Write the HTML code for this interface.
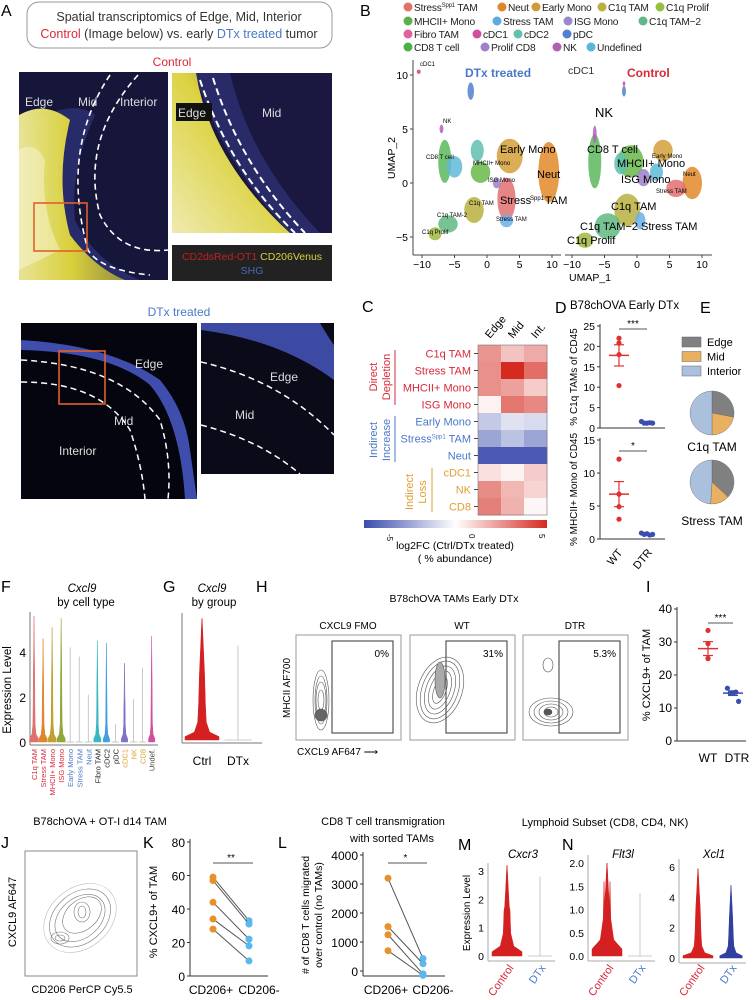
<!DOCTYPE html>
<html><head><meta charset="utf-8">
<style>
html,body{margin:0;padding:0;background:#fff;}
svg{display:block;font-family:"Liberation Sans",Arial,sans-serif;}
</style></head>
<body>
<svg id="fig" xmlns="http://www.w3.org/2000/svg" width="756" height="1000" viewBox="0 0 756 1000">
<defs>
  <linearGradient id="yband" x1="0" x2="1" y1="0" y2="0"><stop offset="0" stop-color="#f2ee9a"/><stop offset="0.5" stop-color="#e2d838"/><stop offset="1" stop-color="#9a9440"/></linearGradient>
  <linearGradient id="yband2" x1="0" x2="1" y1="1" y2="0"><stop offset="0" stop-color="#eeeab0"/><stop offset="0.55" stop-color="#dcd240"/><stop offset="1" stop-color="#5a5a80"/></linearGradient>
  <linearGradient id="cbar" x1="0" x2="1" y1="0" y2="0"><stop offset="0" stop-color="#3b4bab"/><stop offset="0.5" stop-color="#ffffff"/><stop offset="1" stop-color="#d42a20"/></linearGradient>
</defs>

<g>
  <text x="1" y="16" font-size="16">A</text>
  <rect x="27" y="2" width="305" height="46" rx="12" fill="#fff" stroke="#999" stroke-width="1"/>
  <text x="179" y="21" font-size="12.5" text-anchor="middle" fill="#333">Spatial transcriptomics of Edge, Mid, Interior</text>
  <text x="179" y="38" font-size="12.5" text-anchor="middle" fill="#333"><tspan fill="#d8283a">Control</tspan> (Image below) vs. early <tspan fill="#4a78c8">DTx treated</tspan> tumor</text>
  <text x="172" y="66" font-size="12" text-anchor="middle" fill="#d8283a">Control</text>

  <g>
    <rect x="19" y="72" width="149" height="208" fill="#16153a"/>
    <path d="M40,118 Q75,100 95,115 Q70,170 75,220 Q95,262 140,280 L30,280 Q19,250 19,200 L19,130Z" fill="#3a4298" opacity="0.5"/>
    <path d="M19,115 Q45,100 70,120 Q55,180 70,235 Q95,268 125,280 L19,280Z" fill="url(#yband)" opacity="0.95"/>
    <path d="M19,150 Q35,140 45,160 Q40,210 60,250 L19,270Z" fill="#fbf8e0" opacity="0.45"/>
    <path d="M110,75 Q60,150 88,250 Q100,270 150,275" fill="none" stroke="#fff" stroke-width="1.6" stroke-dasharray="6,4"/>
    <path d="M138,75 Q80,140 100,215 Q120,255 168,250" fill="none" stroke="#fff" stroke-width="1.6" stroke-dasharray="6,4"/>
    <rect x="34" y="203" width="53" height="48" fill="none" stroke="#e0602a" stroke-width="1.6"/>
    <text x="25" y="106" font-size="12" fill="#ddd">Edge</text>
    <text x="78" y="106" font-size="12" fill="#ddd">Mid</text>
    <text x="120" y="106" font-size="12" fill="#ddd">Interior</text>
  </g>
  <g>
    <rect x="172" y="73" width="160" height="160" fill="#1a1840"/>
    <path d="M195,73 L230,73 Q250,160 320,233 L290,233 Q220,160 195,73Z" fill="#3a4298" opacity="0.45"/>
    <path d="M172,73 L196,73 Q210,160 290,233 L172,233Z" fill="url(#yband2)"/>
    <path d="M200,80 Q230,170 295,233" fill="none" stroke="#fff" stroke-width="2" stroke-dasharray="7,4"/>
    <path d="M213,78 Q240,165 305,233" fill="none" stroke="#fff" stroke-width="2" stroke-dasharray="7,4"/>
    <rect x="176" y="103" width="36" height="18" fill="#111"/>
    <text x="178" y="117" font-size="12" fill="#ddd">Edge</text>
    <text x="262" y="117" font-size="12" fill="#ddd">Mid</text>
  </g>
  <g>
    <rect x="172" y="245" width="160" height="36" fill="#222"/>
    <text x="252" y="260" font-size="10.5" text-anchor="middle"><tspan fill="#c02020">CD2dsRed-OT1</tspan> <tspan fill="#d8d040">CD206Venus</tspan></text>
    <text x="252" y="274" font-size="10.5" text-anchor="middle" fill="#4a6ab8">SHG</text>
  </g>

  <text x="179" y="316" font-size="12" text-anchor="middle" fill="#4a78c8">DTx treated</text>
  <g>
    <rect x="21" y="323" width="176" height="176" fill="#050510"/>
    <path d="M21,340 Q110,345 160,380 Q185,410 190,450 L197,499 L185,499 Q180,420 150,385 Q110,352 21,350Z" fill="#4a5ac8" opacity="0.85"/>
    <path d="M21,360 Q120,365 160,420 Q172,460 168,499" fill="none" stroke="#fff" stroke-width="1.5" stroke-dasharray="6,4"/>
    <path d="M21,382 Q100,382 130,430 Q142,465 145,499" fill="none" stroke="#fff" stroke-width="1.5" stroke-dasharray="6,4"/>
    <rect x="59" y="351" width="46" height="53" fill="none" stroke="#e0602a" stroke-width="1.6"/>
    <text x="135" y="368" font-size="12" fill="#ddd">Edge</text>
    <text x="114" y="425" font-size="12" fill="#ddd">Mid</text>
    <text x="59" y="455" font-size="12" fill="#ddd">Interior</text>
  </g>
  <g>
    <rect x="201" y="323" width="133" height="151" fill="#0a0a18"/>
    <path d="M201,323 L320,323 Q330,340 334,345 L334,380 Q280,340 201,330Z" fill="#4a5ac8" opacity="0.8"/>
    <path d="M201,362 Q280,380 334,435" fill="none" stroke="#fff" stroke-width="1.5" stroke-dasharray="6,4"/>
    <path d="M201,425 Q260,440 300,474" fill="none" stroke="#fff" stroke-width="1.5" stroke-dasharray="6,4"/>
    <text x="270" y="381" font-size="12" fill="#ddd">Edge</text>
    <text x="235" y="419" font-size="12" fill="#ddd">Mid</text>
  </g>
</g>

<g>
  <text x="360" y="16" font-size="16">B</text>
  <g id="umapLegend"></g>
  <g id="umap"></g>
</g>

<g>
  <text x="362" y="312" font-size="16">C</text>
  <g id="heat"></g>
  <rect x="364" y="520" width="183" height="8" fill="url(#cbar)"/>
  <text transform="translate(387,534) rotate(90)" font-size="8">-5</text>
  <text transform="translate(469,534) rotate(90)" font-size="8">0</text>
  <text transform="translate(539,534) rotate(90)" font-size="8">5</text>
  <text x="455" y="549" font-size="10.5" text-anchor="middle">log2FC (Ctrl/DTx treated)</text>
  <text x="455" y="562" font-size="10.5" text-anchor="middle">( % abundance)</text>
  <text transform="translate(377,377) rotate(-90)" font-size="11" fill="#d8283a" text-anchor="middle">Direct</text>
  <text transform="translate(390,377) rotate(-90)" font-size="11" fill="#d8283a" text-anchor="middle">Depletion</text>
  <line x1="395" y1="350" x2="395" y2="405" stroke="#d8283a"/>
  <text transform="translate(377,440) rotate(-90)" font-size="11" fill="#4a78c8" text-anchor="middle">Indirect</text>
  <text transform="translate(390,440) rotate(-90)" font-size="11" fill="#4a78c8" text-anchor="middle">Increase</text>
  <line x1="395" y1="416" x2="395" y2="462" stroke="#4a78c8"/>
  <text transform="translate(413,492) rotate(-90)" font-size="11" fill="#e0a030" text-anchor="middle">Indirect</text>
  <text transform="translate(426,492) rotate(-90)" font-size="11" fill="#e0a030" text-anchor="middle">Loss</text>
  <line x1="432" y1="468" x2="432" y2="512" stroke="#e0a030"/>
</g>

<g>
  <text x="555" y="313" font-size="16">D</text>
  <text x="570" y="309" font-size="11.5">B78chOVA Early DTx</text>
  <g id="dplot"></g>
</g>

<g>
  <text x="700" y="313" font-size="16">E</text>
  <g id="pies"></g>
</g>

<g>
  <text x="1" y="592" font-size="16">F</text>
  <text x="82" y="592" font-size="11.5" font-style="italic" text-anchor="middle">Cxcl9</text>
  <text x="86" y="606" font-size="11.5" text-anchor="middle">by cell type</text>
  <g id="fplot"></g>
</g>
<g>
  <text x="163" y="592" font-size="16">G</text>
  <text x="212" y="592" font-size="11.5" font-style="italic" text-anchor="middle">Cxcl9</text>
  <text x="214" y="606" font-size="11.5" text-anchor="middle">by group</text>
  <g id="gplot"></g>
</g>

<g>
  <text x="256" y="592" font-size="16">H</text>
  <text x="454" y="602" font-size="10.5" text-anchor="middle">B78chOVA  TAMs Early DTx</text>
  <g id="hplot"></g>
  <text transform="translate(290,688) rotate(-90)" font-size="10" text-anchor="middle">MHCII AF700</text>
  <text x="297" y="755" font-size="10">CXCL9 AF647 ⟶</text>
</g>

<g>
  <text x="646" y="592" font-size="16">I</text>
  <g id="iplot"></g>
</g>

<g>
  <text x="100" y="825" font-size="11" text-anchor="middle">B78chOVA + OT-I d14 TAM</text>
  <text x="1" y="848" font-size="16">J</text>
  <g>
    <rect x="25" y="851" width="112" height="125" fill="#fff" stroke="#888"/>
    <g fill="none" stroke="#777" stroke-width="0.6">
      <ellipse cx="80" cy="918" rx="40" ry="30" transform="rotate(-40 80 918)" stroke="#bbb"/>
      <ellipse cx="80" cy="918" rx="34" ry="25" transform="rotate(-40 80 918)"/>
      <ellipse cx="80" cy="918" rx="28" ry="20" transform="rotate(-40 80 918)"/>
      <ellipse cx="82" cy="915" rx="22" ry="15" transform="rotate(-40 82 915)"/>
      <ellipse cx="60" cy="938" rx="9" ry="6"/>
      <ellipse cx="60" cy="938" rx="5" ry="3"/>
      <ellipse cx="82" cy="912" rx="8" ry="10"/>
      <ellipse cx="82" cy="912" rx="4" ry="6"/>
    </g>
  </g>
  <text transform="translate(16,912) rotate(-90)" font-size="11" text-anchor="middle">CXCL9 AF647</text>
  <text x="82" y="993" font-size="11" text-anchor="middle">CD206 PerCP Cy5.5</text>
</g>

<g>
  <text x="143" y="848" font-size="16">K</text>
  <g id="kplot"></g>
</g>
<g>
  <text x="383" y="825" font-size="11" text-anchor="middle">CD8 T cell transmigration</text>
  <text x="392" y="842" font-size="11" text-anchor="middle">with sorted TAMs</text>
  <text x="278" y="848" font-size="16">L</text>
  <g id="lplot"></g>
</g>

<g>
  <text x="605" y="826" font-size="11" text-anchor="middle">Lymphoid Subset (CD8, CD4, NK)</text>
  <text x="458" y="850" font-size="16">M</text>
  <text x="562" y="850" font-size="16">N</text>
  <text transform="translate(470,913) rotate(-90)" font-size="10" text-anchor="middle">Expression Level</text>
  <g id="mnplot"></g>
</g>
</svg>

<script>
// ---------------- DATA ----------------
const umapClusterNames = ['Neut','Early Mono','StressSpp1 TAM','CD8 T cell','MHCII+ Mono','ISG Mono','C1q TAM','C1q TAM-2','Stress TAM','C1q Prolif','NK','cDC2','pDC','cDC1','Undefined'];
const umapColors = ['#e08a2a','#d4a03a','#e07070','#5cb85c','#6ab84a','#9a80c8','#b8b040','#60b880','#6ab0e8','#a0b840','#b060b8','#60c0b0','#5080d0','#d04080','#60b8d8'];
const dtxCx = [9.5,3.5,3,-6.5,-1,1.5,-2,-6,3,-8,-7,-1.5,-2.5,-10.5,-5];
const dtxCy = [1,2.5,-1.5,2,1,0,-2.5,-3.8,-3.5,-4.7,5,3,8.5,10.3,1.5];
const dtxRx = [1.6,2,1.4,1,1.5,0.6,1.5,1.5,1,1,0.3,1,0.5,0.3,1.2];
const dtxRy = [2.8,1.6,2,2,1,0.5,1.2,0.8,0.6,0.6,0.4,1,0.8,0.2,1];
const ctrlCx = [8.5,4,6,-6.5,-1,1,-1.5,-4.5,0.5,-8,-6.5,-2.5,-2,-2,3];
const ctrlCy = [0,3,-0.5,2,2,0.5,-2.5,-4,-3.5,-5.3,4.5,1.8,8.5,9.2,1];
const ctrlRx = [1.5,1.5,1.5,1,2,1,2,2,0.8,1.3,0.3,1,0.3,0.2,1];
const ctrlRy = [1.5,1,0.8,2.5,1.5,0.8,1.5,1.2,0.8,0.7,0.8,1,0.5,0.2,0.8];
const umapXTicks = [-10,-5,0,5,10];
const umapYTicks = [10,5,0,-5];

const legendNames = ['Stress','Neut','Early Mono','C1q TAM','C1q Prolif','MHCII+ Mono','Stress TAM','ISG Mono','C1q TAM−2','Fibro TAM','cDC1','cDC2','pDC','CD8 T cell','Prolif CD8','NK','Undefined'];
const legendColors = ['#e07268','#e0862a','#d09a38','#b8b040','#98c040','#5cb04a','#60a8e0','#9a88c8','#60b888','#e060a0','#d050a0','#60c0b0','#5080d0','#4cb048','#a080c8','#b060b0','#58b8d8'];

const heatRows = ['C1q TAM','Stress TAM','MHCII+ Mono','ISG Mono','Early Mono','StressSpp1 TAM','Neut','cDC1','NK','CD8'];
const heatRowColors = ['#d8283a','#d8283a','#d8283a','#d8283a','#4a78c8','#4a78c8','#4a78c8','#e0a030','#e0a030','#e0a030'];
const heatCols = ['Edge','Mid','Int.'];
const heatEdge = [2.5,2.6,2.6,0.3,-1.5,-2.5,-4.6,0.7,2.7,3];
const heatMid = [1.4,5,2.2,3.2,-0.8,-1.7,-4.6,0.3,1.7,1.8];
const heatInt = [2,3.4,1.2,2.8,-1,-2.5,-4.6,1.2,1,0.2];

const dC1qWT = [22,20.8,18,10.4];
const dC1qDTR = [1.6,1.2,1.2,1.3,1.2];
const dC1qWTMean = 17.8, dC1qWTSem = 2.6;
const dMonoWT = [12.1,6.8,4.9,3];
const dMonoDTR = [0.9,0.7,0.8,0.6,0.7];
const dMonoWTMean = 6.8, dMonoWTSem = 1.9;
const dC1qTicks = [0,5,10,15,20,25];
const dMonoTicks = [0,5,10,15];

const pieLabels = ['Edge','Mid','Interior'];
const pieColors = ['#808080','#e8b060','#aac0dc'];
const pieC1q = [0.28,0.22,0.50];
const pieStress = [0.37,0.14,0.49];

const fCats = ['C1q TAM','Stress TAM','MHCII+ Mono','ISG Mono','Early Mono','StressSpp1 TAM','Neut','Fibro TAM','cDC2','pDC','cDC1','NK','CD8','Undef.'];
const fLabelColors = ['#d8283a','#d8283a','#d8283a','#d8283a','#4a78c8','#4a78c8','#4a78c8','#222','#222','#222','#e0a030','#e0a030','#e0a030','#444'];
const fFill = ['#e07070','#e0862a','#c0a030','#90a838','#999','#999','#999','#38b8c0','#40a0e0','#999','#8070c8','#999','#999','#d050a0'];
const fMax = [5.6,4.6,5.1,5.5,4.2,3.8,2.1,4.5,4.4,0.8,3.5,1.9,3.3,4.7];
const fWidth = [1,0.9,0.9,0.9,0,0,0,0.8,0.7,0,0.7,0,0,0.7];
const fTicks = [0,2,4];

const gCats = ['Ctrl','DTx'];
const gMax = [5.4,4.2];
const gWidth = [1,0];

const hNames = ['CXCL9 FMO','WT','DTR'];
const hPct = ['0%','31%','5.3%'];

const iWT = [33.5,29.5,25,25];
const iDTR = [16,14.5,14.5,14.8,12];
const iWTMean = 28, iWTSem = 2.1, iDTRMean = 14.5, iDTRSem = 0.7;
const iTicks = [0,10,20,30,40];

const kPlus = [59,57,44,34,28];
const kMinus = [33,31,22,18,9];
const kTicks = [0,20,40,60,80];
const lPlus = [3200,1530,1250,700];
const lMinus = [430,250,-100,-150];
const lTicks = [0,1000,2000,3000,4000];

const mnGenes = ['Cxcr3','Flt3l','Xcl1'];
const mnCtrlMax = [3.2,2.0,5.9];
const mnDtxMax = [2.8,1.35,4.8];
const mnTicks0 = [0,1,2,3];
const mnTicks1 = [0,0.5,1.0,1.5,2.0];
const mnTicks2 = [0,2,4,6];

// ---------------- HELPERS ----------------
const NS = 'http://www.w3.org/2000/svg';
function mk(tag, attrs, parent){ const e=document.createElementNS(NS,tag); for(const k in attrs) e.setAttribute(k,attrs[k]); parent.appendChild(e); return e; }
function txt(parent, x, y, s, size, extra){ const t=mk('text',Object.assign({x:x,y:y,'font-size':size},extra||{}),parent); t.textContent=s; return t; }

// ---------------- UMAP LEGEND ----------------
(function(){
  const g=document.getElementById('umapLegend');
  const rowsY=[7,21,34,47];
  const xs=[408,502,536,602,660, 408,497,568,643, 408,477,518,567, 408,485,557,591];
  const rowIdx=[0,0,0,0,0,1,1,1,1,2,2,2,2,3,3,3,3];
  for(let i=0;i<legendNames.length;i++){
    const c=mk('circle',{cx:xs[i],cy:rowsY[rowIdx[i]],r:4.5,fill:legendColors[i]},g);
    
    
    const t=txt(g,xs[i]+6,rowsY[rowIdx[i]]+4,legendNames[i],10.2,{fill:'#222','letter-spacing':'-0.2'});
    
    
    if(i===0){ const s=mk('tspan',{'font-size':6,dy:-4},t); s.textContent='Spp1'; const s2=mk('tspan',{dy:4},t); s2.textContent=' TAM'; }
  }
})();

// ---------------- UMAP ----------------
(function(){
  const g=document.getElementById('umap');
  const yS=v=>183-v*10.8;
  const xL=v=>487+v*6.5, xR=v=>637+v*6.5;
  mk('line',{x1:413,y1:60,x2:413,y2:255,stroke:'#444'},g);
  mk('line',{x1:413,y1:255,x2:561,y2:255,stroke:'#444'},g);
  mk('line',{x1:565,y1:255,x2:712,y2:255,stroke:'#444'},g);
  umapYTicks.forEach(v=>{ mk('line',{x1:410,x2:413,y1:yS(v),y2:yS(v),stroke:'#444'},g); const t=txt(g,408,yS(v)+4,String(v).replace('-','−'),10.5,{'text-anchor':'end'});   });
  umapXTicks.forEach(v=>{
    [xL,xR].forEach(f=>{ mk('line',{x1:f(v),x2:f(v),y1:255,y2:258,stroke:'#444'},g); const t=txt(g,f(v),268,String(v).replace('-','−'),10.5,{'text-anchor':'middle'});   });
  });
  const draw=(cx,cy,rx,ry,fx,name)=>{
    for(let i=0;i<cx.length;i++){
      const e=mk('ellipse',{cx:fx(cx[i]),cy:yS(cy[i]),rx:rx[i]*6.5,ry:ry[i]*10.8,fill:umapColors[i],opacity:0.85},g);
      
      
    }
  };
  draw(dtxCx,dtxCy,dtxRx,dtxRy,xL,'umap-cluster-dtx');
  draw(ctrlCx,ctrlCy,ctrlRx,ctrlRy,xR,'umap-cluster-control');
  const lab=(x,y,s,sz,extra)=>{ const t=txt(g,x,y,s,sz,extra||{});   return t; };
  lab(465,77,'DTx treated',12,{fill:'#4a78c8','font-weight':'bold'});
  lab(568,74,'cDC1',10.5,{fill:'#333'});
  lab(627,77,'Control',12,{fill:'#d8283a','font-weight':'bold'});
  lab(420,66,'cDC1',6,{});
  lab(443,123,'NK',6,{});
  lab(426,159,'CD8 T cell',6,{});
  lab(473,165,'MHCII+ Mono',6,{});
  lab(488,182,'ISG Mono',6,{});
  lab(469,205,'C1q TAM',6,{});
  lab(437,217,'C1q TAM-2',6,{});
  lab(422,234,'C1q Prolif',6,{});
  lab(496,221,'Stress TAM',6,{});
  lab(500,153,'Early Mono',11,{});
  lab(537,178,'Neut',11,{});
  lab(500,204,'Stress',11,{});
  lab(530,200,'Spp1',6,{});
  lab(545,204,'TAM',11,{});
  lab(595,117,'NK',13,{});
  lab(587,153,'CD8 T cell',11,{});
  lab(617,167,'MHCII+ Mono',11,{});
  lab(621,183,'ISG Mono',11,{});
  lab(611,210,'C1q TAM',11,{});
  lab(580,230,'C1q TAM−2 Stress TAM',11,{});
  lab(567,244,'C1q Prolif',11,{});
  lab(652,158,'Early Mono',6,{});
  lab(683,176,'Neut',6,{});
  lab(656,193,'Stress TAM',6,{});
  const t1=txt(g,590,281,'UMAP_1',10.5,{'text-anchor':'middle'});  
  const t2=txt(g,0,0,'UMAP_2',10.5,{'text-anchor':'middle',transform:'translate(395,158) rotate(-90)'});  
})();

// ---------------- HEATMAP ----------------
(function(){
  const g=document.getElementById('heat');
  const x0=478,y0=345,cw=23,rh=17;
  const col=v=>{ const a=Math.min(1,Math.abs(v)/5); const tgt=v<0?[59,75,171]:[212,42,32]; const c=tgt.map(t=>Math.round(255+(t-255)*a)); return 'rgb('+c.join(',')+')'; };
  const cols=[heatEdge,heatMid,heatInt];
  for(let r=0;r<heatRows.length;r++){
    for(let c=0;c<3;c++){
      const e=mk('rect',{x:x0+c*cw,y:y0+r*rh,width:cw+0.5,height:rh+0.5,fill:col(cols[c][r])},g);
      
      
    }
    mk('line',{x1:x0-4,x2:x0,y1:y0+r*rh+rh/2,y2:y0+r*rh+rh/2,stroke:'#444'},g);
    const isSpp=heatRows[r]==='StressSpp1 TAM';
    const t=txt(g,x0-7,y0+r*rh+rh/2+4,isSpp?'':heatRows[r],11,{'text-anchor':'end',fill:heatRowColors[r]});
    
    
    if(isSpp){ const a=mk('tspan',{},t); a.textContent='Stress'; const b=mk('tspan',{'font-size':6,dy:-4},t); b.textContent='Spp1'; const d=mk('tspan',{dy:4},t); d.textContent=' TAM'; }
  }
  mk('rect',{x:x0,y:y0,width:3*cw,height:heatRows.length*rh,fill:'none',stroke:'#777','stroke-width':0.6},g);
  heatCols.forEach((s,c)=>{ const t=txt(g,0,0,s,11,{transform:'translate('+(x0+c*cw+12)+','+(y0-6)+') rotate(-50)'});   });
})();

// ---------------- DOT PLOT helper ----------------
function dotPanel(g, cfg){
  const yS=v=>cfg.y0-v*(cfg.y0-cfg.yTop)/cfg.vTop;
  mk('line',{x1:cfg.ax,y1:yS(cfg.ticks[cfg.ticks.length-1])-2,x2:cfg.ax,y2:cfg.y0,stroke:'#333'},g);
  mk('line',{x1:cfg.ax,y1:cfg.y0,x2:cfg.xEnd,y2:cfg.y0,stroke:'#333'},g);
  cfg.ticks.forEach(v=>{ mk('line',{x1:cfg.ax-3,x2:cfg.ax,y1:yS(v),y2:yS(v),stroke:'#333'},g); const t=txt(g,cfg.ax-5,yS(v)+4,String(v),cfg.fs,{'text-anchor':'end'});   });
  const pts=(arr,x,color,name,spread)=>{ const n=arr.length; arr.forEach((v,i)=>{ const dx=spread?(i-(n-1)/2)*2.8:0; const c=mk('circle',{cx:x+dx,cy:yS(v),r:cfg.r,fill:color},g);   }); };
  pts(cfg.a,cfg.xa,cfg.ca,'point-wt',false);
  pts(cfg.b,cfg.xb,cfg.cb,'point-dtr',true);
  const err=(x,m,s,color)=>{ mk('line',{x1:x-10,x2:x+10,y1:yS(m),y2:yS(m),stroke:color,'stroke-width':1.5},g); mk('line',{x1:x,x2:x,y1:yS(m-s),y2:yS(m+s),stroke:color,'stroke-width':1.2},g); mk('line',{x1:x-5,x2:x+5,y1:yS(m-s),y2:yS(m-s),stroke:color,'stroke-width':1.2},g); mk('line',{x1:x-5,x2:x+5,y1:yS(m+s),y2:yS(m+s),stroke:color,'stroke-width':1.2},g); };
  if(cfg.ma!==undefined) err(cfg.xa,cfg.ma,cfg.sa,cfg.ca);
  if(cfg.mb!==undefined) err(cfg.xb,cfg.mb,cfg.sb,cfg.cb);
  mk('line',{x1:cfg.xa,x2:cfg.xb,y1:cfg.sigY,y2:cfg.sigY,stroke:'#555'},g);
  const st=txt(g,(cfg.xa+cfg.xb)/2,cfg.sigY-2,cfg.sig,10,{'text-anchor':'middle'});  
  const yl=txt(g,0,0,cfg.ylab,cfg.yfs||(cfg.fs-0.5),{'text-anchor':'middle',transform:'translate('+cfg.ylx+','+((cfg.y0+cfg.yTop)/2)+') rotate(-90)'});  
  return yS;
}

// ---------------- PANEL D ----------------
(function(){
  const g=document.getElementById('dplot');
  dotPanel(g,{ax:600,y0:428,yTop:326,vTop:25,xEnd:665,ticks:dC1qTicks,a:dC1qWT,b:dC1qDTR,xa:619,xb:647,ca:'#e03030',cb:'#3a4db0',ma:dC1qWTMean,sa:dC1qWTSem,sigY:329,sig:'***',ylab:'% C1q TAMs of CD45',ylx:577,fs:10.5,r:2.6});
  dotPanel(g,{ax:600,y0:539,yTop:440,vTop:15,xEnd:665,ticks:dMonoTicks,a:dMonoWT,b:dMonoDTR,xa:619,xb:647,ca:'#e03030',cb:'#3a4db0',ma:dMonoWTMean,sa:dMonoWTSem,sigY:451,sig:'*',ylab:'% MHCII+ Mono of CD45',ylx:577,fs:10.5,r:2.6});
  const a=txt(g,0,0,'WT',11,{transform:'translate(612,566) rotate(-50)'});  
  const b=txt(g,0,0,'DTR',11,{transform:'translate(638,570) rotate(-50)'});  
})();

// ---------------- PANEL E ----------------
(function(){
  const g=document.getElementById('pies');
  pieLabels.forEach((s,i)=>{ const r=mk('rect',{x:682,y:337+i*14.5,width:19,height:10,fill:pieColors[i],stroke:'#666','stroke-width':0.5},g);   const t=txt(g,707,346+i*14.5,s,11);   });
  const pie=(cx,cy,r,fr,label,ly)=>{
    let a0=-Math.PI/2;
    fr.forEach((f,i)=>{ const a1=a0+f*2*Math.PI; const large=f>0.5?1:0; const p=mk('path',{d:'M'+cx+','+cy+' L'+(cx+r*Math.cos(a0))+','+(cy+r*Math.sin(a0))+' A'+r+','+r+' 0 '+large+' 1 '+(cx+r*Math.cos(a1))+','+(cy+r*Math.sin(a1))+' Z',fill:pieColors[i],stroke:'#666','stroke-width':0.4},g);   a0=a1; });
    const t=txt(g,cx,ly,label,12,{'text-anchor':'middle'});  
  };
  pie(712,413,22,pieC1q,'C1q TAM',451);
  pie(712,482,22,pieStress,'Stress TAM',525);
})();

// ---------------- VIOLIN helper ----------------
function violin(g, x, y0, unit, max, half, w, color, name){
  if(w<=0){ const l=mk('line',{x1:x,x2:x,y1:y0,y2:y0-max*unit,stroke:'#bbb','stroke-width':0.8},g);   mk('line',{x1:x-half*0.8,x2:x+half*0.8,y1:y0,y2:y0,stroke:'#bbb','stroke-width':0.8},g); return; }
  const prof=[[0,1],[0.15,1],[0.35,0.45],[0.8,0.25],[1.6,0.2],[0.55*max,0.15],[0.8*max,0.07],[max,0.01]];
  let L='',R='';
  prof.forEach(p=>{ const yy=y0-Math.min(p[0],max)*unit; const ww=half*w*p[1]; L+=(L?' L':'M')+(x-ww)+','+yy; R=' L'+(x+ww)+','+yy+R; });
  const p=mk('path',{d:L+R+' Z',fill:color,stroke:color,'stroke-width':0.5},g);
  
  
}

// ---------------- PANEL F ----------------
(function(){
  const g=document.getElementById('fplot');
  const y0=742, unit=22.5, ax=30;
  mk('line',{x1:ax,y1:612,x2:ax,y2:y0+3,stroke:'#777'},g);
  mk('line',{x1:ax,y1:y0+3,x2:158,y2:y0+3,stroke:'#777'},g);
  fTicks.forEach(v=>{ const t=txt(g,ax-4,y0-v*unit+5,String(v),12,{'text-anchor':'end'});   });
  const yl=txt(g,0,0,'Expression Level',11.5,{'text-anchor':'middle',transform:'translate(11,690) rotate(-90)'});  
  fCats.forEach((c,i)=>{
    const x=34+i*9.05;
    violin(g,x,y0,unit,fMax[i],4.5,fWidth[i],fFill[i],'violin-'+i);
    const t=txt(g,0,0,c==='StressSpp1 TAM'?'Stress TAM':c,7.5,{'text-anchor':'end',fill:fLabelColors[i],transform:'translate('+(x+3)+','+(y0+7)+') rotate(-90)'});
    
    
  });
})();

// ---------------- PANEL G ----------------
(function(){
  const g=document.getElementById('gplot');
  const y0=740, unit=22.5;
  mk('line',{x1:182,y1:613,x2:182,y2:y0+3,stroke:'#777'},g);
  mk('line',{x1:182,y1:y0+3,x2:262,y2:y0+3,stroke:'#777'},g);
  const xs=[202,238];
  gCats.forEach((c,i)=>{
    violin(g,xs[i],y0,unit,gMax[i],17,gWidth[i],'#d42020','violin-'+c);
    const t=txt(g,xs[i],765,c,12,{'text-anchor':'middle'});
    
    
  });
})();

// ---------------- PANEL H ----------------
(function(){
  const g=document.getElementById('hplot');
  const xs=[296,410,523];
  hNames.forEach((n,i)=>{
    const x=xs[i];
    const r=mk('rect',{x:x,y:635,width:105,height:105,fill:'#fff',stroke:'#999'},g);  
    const gt=mk('rect',{x:x+36,y:641,width:61,height:92,fill:'none',stroke:'#333'},g);  
    const t=txt(g,x+52,629,n,10,{'text-anchor':'middle'});  
    const p=txt(g,x+93,657,hPct[i],10,{'text-anchor':'end'});  
    const cg=mk('g',{fill:'none',stroke:'#555','stroke-width':0.6},g);
    if(i===0){ [[8,30],[6,24],[5,18],[3,10]].forEach(a=>mk('ellipse',{cx:x+25,cy:700,rx:a[0],ry:a[1]},cg)); mk('ellipse',{cx:x+25,cy:715,rx:6,ry:6,fill:'#666'},cg); }
    else if(i===1){ [[22,34],[18,30],[14,25],[10,20],[6,14]].forEach(a=>mk('ellipse',{cx:x+30,cy:690,rx:a[0],ry:a[1],transform:'rotate(20 '+(x+30)+' 690)'},cg)); mk('ellipse',{cx:x+30,cy:680,rx:5,ry:18,fill:'#aaa'},cg); }
    else { [[22,14],[17,11],[12,8],[7,5]].forEach(a=>mk('ellipse',{cx:x+28,cy:712,rx:a[0],ry:a[1]},cg)); mk('ellipse',{cx:x+25,cy:665,rx:5,ry:7},cg); mk('ellipse',{cx:x+25,cy:712,rx:4,ry:3,fill:'#555'},cg); }
  });
})();

// ---------------- PANEL I ----------------
(function(){
  const g=document.getElementById('iplot');
  dotPanel(g,{ax:677,y0:741,yTop:609,vTop:40,xEnd:746,ticks:iTicks,a:iWT,b:iDTR,xa:708,xb:733,ca:'#e03030',cb:'#3a4db0',ma:iWTMean,sa:iWTSem,mb:iDTRMean,sb:iDTRSem,sigY:623,sig:'***',ylab:'% CXCL9+ of TAM',ylx:650,fs:12,yfs:11,r:2.6});
  const a=txt(g,708,762,'WT',12,{'text-anchor':'middle'});  
  const b=txt(g,737,762,'DTR',12,{'text-anchor':'middle'});  
})();

// ---------------- PAIRED helper ----------------
function paired(g,cfg){
  const yS=v=>cfg.y0-v*(cfg.y0-cfg.yTop)/cfg.vTop;
  const pad=cfg.pad||0;
  mk('line',{x1:cfg.ax,y1:cfg.yTop-3,x2:cfg.ax,y2:cfg.y0+pad,stroke:'#333'},g);
  mk('line',{x1:cfg.ax,y1:cfg.y0+pad,x2:cfg.xEnd,y2:cfg.y0+pad,stroke:'#333'},g);
  cfg.ticks.forEach(v=>{ mk('line',{x1:cfg.ax-3,x2:cfg.ax,y1:yS(v),y2:yS(v),stroke:'#333'},g); const t=txt(g,cfg.ax-5,yS(v)+5,String(v),12,{'text-anchor':'end'});   });
  cfg.a.forEach((v,i)=>{
    const l=mk('line',{x1:cfg.xa,y1:yS(v),x2:cfg.xb,y2:yS(cfg.b[i]),stroke:'#555'},g);  
    const c1=mk('circle',{cx:cfg.xa,cy:yS(v),r:3.5,fill:'#e8902a'},g);  
    const c2=mk('circle',{cx:cfg.xb,cy:yS(cfg.b[i]),r:3.5,fill:'#5ab8ee'},g);  
  });
  mk('line',{x1:cfg.xa,x2:cfg.xb+4,y1:cfg.sigY,y2:cfg.sigY,stroke:'#555'},g);
  const st=txt(g,(cfg.xa+cfg.xb)/2,cfg.sigY-2,cfg.sig,10,{'text-anchor':'middle'});  
  const a=txt(g,cfg.xa-2,994,'CD206+',12,{'text-anchor':'middle'});  
  const b=txt(g,cfg.xb+10,994,'CD206-',12,{'text-anchor':'middle'});  
}
(function(){
  const g=document.getElementById('kplot');
  paired(g,{ax:190,y0:976,yTop:842,vTop:80,xEnd:268,ticks:kTicks,a:kPlus,b:kMinus,xa:213,xb:249,sigY:863,sig:'**'});
  const yl=txt(g,0,0,'% CXCL9+ of TAM',11,{'text-anchor':'middle',transform:'translate(157,912) rotate(-90)'});  
})();
(function(){
  const g=document.getElementById('lplot');
  paired(g,{ax:363,y0:971,yTop:855,vTop:4000,xEnd:445,ticks:lTicks,a:lPlus,b:lMinus,xa:388,xb:423,sigY:863,sig:'*',pad:5});
  const y1=txt(g,0,0,'# of CD8 T cells migrated',10.5,{'text-anchor':'middle',transform:'translate(309,915) rotate(-90)'});  
  const y2=txt(g,0,0,'over control (no TAMs)',10.5,{'text-anchor':'middle',transform:'translate(322,915) rotate(-90)'});  
})();

// ---------------- PANEL M/N ----------------
(function(){
  const g=document.getElementById('mnplot');
  const axes=[488,588,679], tops=[871,863,867], bots=[956,956,958], vtops=[3,2,6];
  const tickSets=[mnTicks0,mnTicks1,mnTicks2];
  const labs=[['0','1','2','3'],['0.0','0.5','1.0','1.5','2.0'],['0','2','4','6']];
  const dtxColors=['#bbb','#bbb','#3040a0'];
  const dtxW=[0,0,0.75];
  mnGenes.forEach((gene,i)=>{
    const ax=axes[i], y0=bots[i], unit=(bots[i]-tops[i])/vtops[i];
    mk('line',{x1:ax,y1:tops[i]-8,x2:ax,y2:y0+5,stroke:'#aaa'},g);
    mk('line',{x1:ax,y1:y0+5,x2:ax+67,y2:y0+5,stroke:'#aaa'},g);
    tickSets[i].forEach((v,k)=>{ const t=txt(g,ax-4,y0-v*unit+4,labs[i][k],10.5,{'text-anchor':'end'});   });
    const ti=txt(g,ax+35,858,gene,11.5,{'text-anchor':'middle','font-style':'italic'});  
    violin(g,ax+19,y0,unit,mnCtrlMax[i],15,1,'#d42020','violin-control-'+gene);
    violin(g,ax+52,y0,unit,mnDtxMax[i],15,dtxW[i],dtxColors[i],'violin-dtx-'+gene);
    const c=txt(g,0,0,'Control',11,{'text-anchor':'end',fill:'#d8283a',transform:'translate('+(ax+26)+',968) rotate(-55)'});  
    const d=txt(g,0,0,'DTx',11,{'text-anchor':'end',fill:'#4a78c8',transform:'translate('+(ax+58)+',968) rotate(-55)'});  
  });
})();
</script>
</body></html>
